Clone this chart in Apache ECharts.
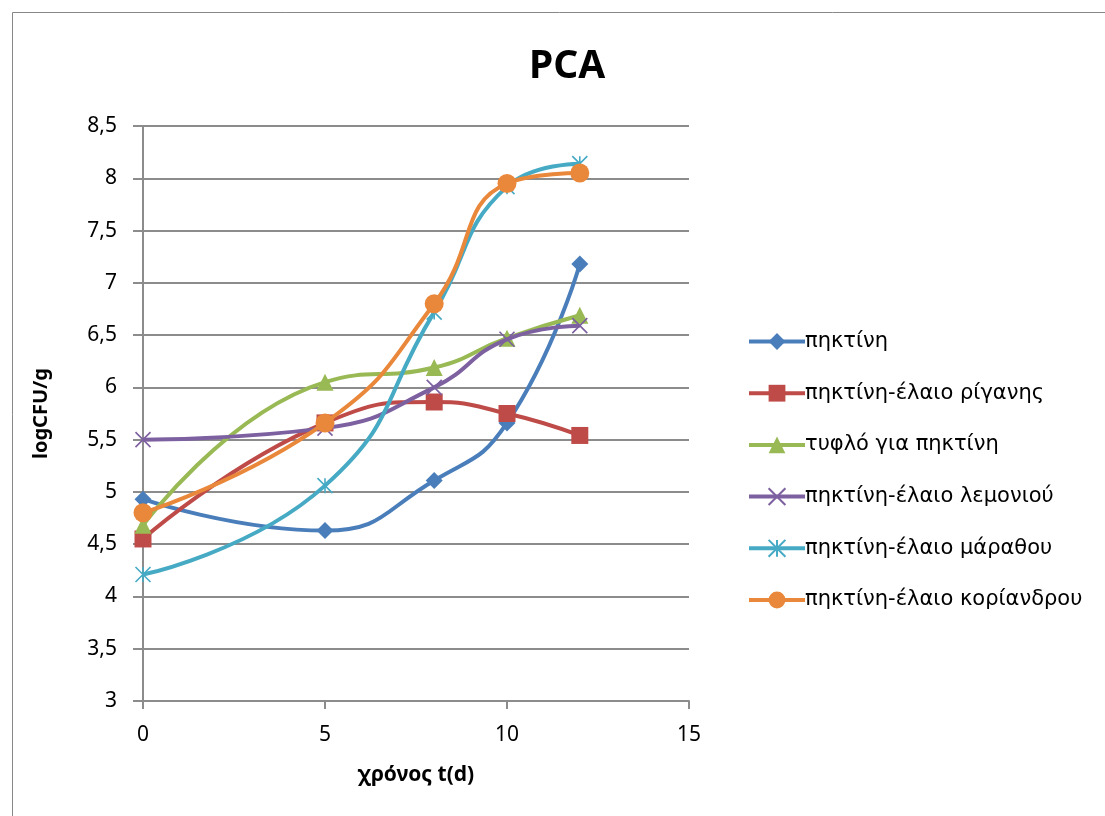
<!DOCTYPE html>
<html>
<head>
<meta charset="utf-8">
<script src="https://cdn.jsdelivr.net/npm/echarts@6/dist/echarts.min.js"></script>
<style>
html,body{margin:0;padding:0;background:#fff;}
#c{width:1105px;height:816px;}
</style>
</head>
<body>
<div id="c"></div>
<script>
const days = [0, 5, 8, 10, 12];
const seriesNames = [
  'πηκτίνη',
  'πηκτίνη-έλαιο ρίγανης',
  'τυφλό για πηκτίνη',
  'πηκτίνη-έλαιο λεμονιού',
  'πηκτίνη-έλαιο μάραθου',
  'πηκτίνη-έλαιο κορίανδρου'
];
const pektini = [4.93, 4.63, 5.11, 5.66, 7.18];
const rigani = [4.55, 5.66, 5.86, 5.75, 5.54];
const tyflo = [4.68, 6.05, 6.19, 6.47, 6.69];
const lemoni = [5.50, 5.61, 6.00, 6.46, 6.59];
const marathos = [4.21, 5.06, 6.72, 7.92, 8.14];
const koriandros = [4.80, 5.66, 6.80, 7.95, 8.05];
const yTicks = [3, 3.5, 4, 4.5, 5, 5.5, 6, 6.5, 7, 7.5, 8, 8.5];
const xTicks = [0, 5, 10, 15];

const colors = ['#4A7EBB', '#BE4B48', '#98B954', '#7D60A0', '#46AAC5', '#E9873A'];
const symbols = [
  'diamond',
  'rect',
  'triangle',
  'path://M0,0 L10,10 M10,0 L0,10',
  'path://M0,0 L10,10 M10,0 L0,10 M5,0 L5,10',
  'circle'
];
const symbolSizes = [17, 17, 17, 15, 15, 19];
const values = [pektini, rigani, tyflo, lemoni, marathos, koriandros];
const font = '"Noto Sans", "DejaVu Sans", sans-serif';
const legendFont = '"DejaVu Sans", "Noto Sans", sans-serif';
const gridColor = '#8C8C8C';

const series = values.map((vals, i) => {
  const isStroke = i === 3 || i === 4;
  return {
    name: seriesNames[i],
    type: 'line',
    smooth: 0.5,
    data: days.map((d, j) => [d, vals[j]]),
    symbol: symbols[i],
    symbolSize: symbolSizes[i],
    showAllSymbol: true,
    lineStyle: {color: colors[i], width: 4},
    itemStyle: isStroke
      ? {color: 'rgba(0,0,0,0)', borderColor: colors[i], borderWidth: 1.6}
      : {color: colors[i], borderColor: colors[i], borderWidth: 0},
    emphasis: {disabled: true},
    z: 2 + i
  };
});

const chart = echarts.init(document.getElementById('c'), null, {renderer: 'canvas'});
chart.setOption({
  animation: false,
  backgroundColor: '#fff',
  color: colors,
  graphic: [{
    type: 'rect',
    shape: {x: 12.5, y: 12.5, width: 1200, height: 1000},
    style: {fill: 'none', stroke: '#888', lineWidth: 1}
  }],
  title: {
    text: 'PCA',
    left: 524,
    top: 42,
    textStyle: {fontFamily: font, fontSize: 39, fontWeight: 'bold', color: '#000'}
  },
  grid: {left: 143, right: 1105 - 689, top: 126, bottom: 816 - 701, containLabel: false},
  xAxis: {
    type: 'value',
    min: 0, max: 15, interval: 5,
    name: 'χρόνος t(d)',
    nameLocation: 'middle',
    nameGap: 64,
    nameTextStyle: {fontFamily: font, fontSize: 21, fontWeight: 'bold', color: '#000'},
    axisLine: {show: true, onZero: false, lineStyle: {color: gridColor, width: 2}},
    axisTick: {show: true, length: 8, lineStyle: {color: gridColor, width: 2}},
    axisLabel: {fontFamily: font, fontSize: 21, color: '#000', margin: 24,
      formatter: v => xTicks.includes(v) ? String(v) : ''},
    splitLine: {show: false}
  },
  yAxis: {
    type: 'value',
    min: 3, max: 8.5, interval: 0.5,
    name: 'logCFU/g',
    nameLocation: 'middle',
    nameGap: 92,
    nameTextStyle: {fontFamily: font, fontSize: 20, fontWeight: 'bold', color: '#000'},
    axisLine: {show: true, lineStyle: {color: gridColor, width: 2}},
    axisTick: {show: true, length: 10, lineStyle: {color: gridColor, width: 2}},
    axisLabel: {fontFamily: font, fontSize: 21, color: '#000', margin: 26,
      formatter: v => String(yTicks.find(t => Math.abs(t - v) < 1e-9) ?? v).replace('.', ',')},
    splitLine: {show: true, lineStyle: {color: gridColor, width: 2}}
  },
  legend: {
    orient: 'vertical',
    left: 742,
    top: 326,
    itemWidth: 56,
    itemHeight: 21,
    itemGap: 30.7,
    lineStyle: {width: 4},
    textStyle: {fontFamily: legendFont, fontSize: 21, color: '#000', padding: [0, 0, 0, -5]},
    data: seriesNames
  },
  series: series
});
</script>
</body>
</html>
